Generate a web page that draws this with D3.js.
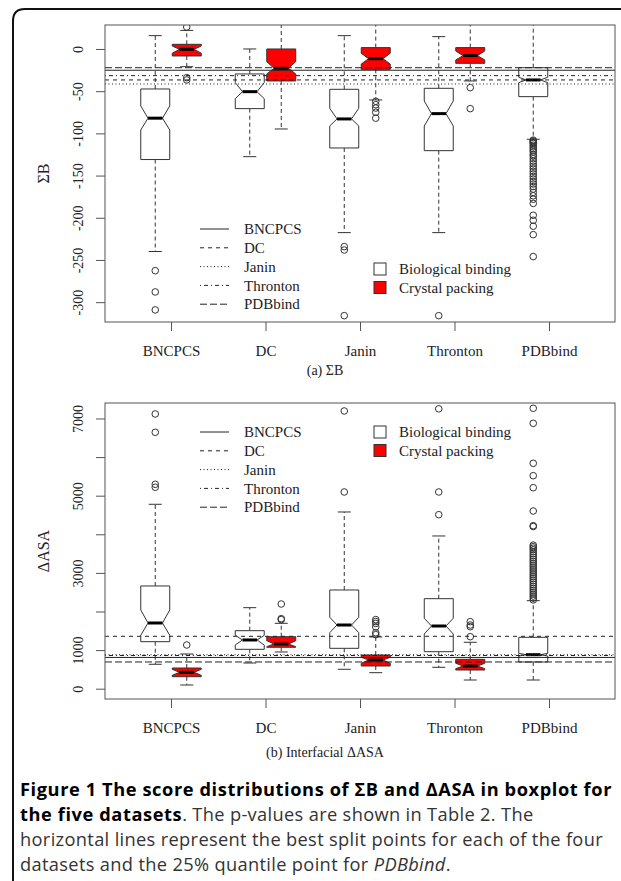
<!DOCTYPE html>
<html>
<head>
<meta charset="utf-8">
<script src="https://cdn.jsdelivr.net/npm/d3@7"></script>
<style>
  body { margin: 0; background: #fff; }
  svg { display: block; }
</style>
</head>
<body>
<script>
/* Two notched boxplots (sum of B-factors and interfacial ASA) for five datasets,
   each with the best split point drawn as a horizontal line. */

const W = 621, H = 881;
const SERIF = '"Liberation Serif", "Times New Roman", serif';

const categories = ['BNCPCS', 'DC', 'Janin', 'Thronton', 'PDBbind'];
const groups = ['Biological binding', 'Crystal packing'];
const splitNames = ['BNCPCS', 'DC', 'Janin', 'Thronton', 'PDBbind'];

// box stats: [lower whisker, Q1, notch low, median, notch high, Q3, upper whisker]
const sbBio = [
  [-240, -131, -96, -82, -67.5, -47.4, 15.8],
  [-127.6, -70.7, -58.9, -50.6, -39.9, -29.6, 0],
  [-217.6, -117.3, -91.2, -82.9, -70.3, -47.8, 15.8],
  [-217.6, -120.5, -91.2, -76.6, -61.6, -46.6, 14.6],
  [-107, -56.5, -39.9, -36.7, -33.5, -22.2, 60],
];
const sbCry = [
  [-21, -8.3, -5, -0.4, 3.5, 5.5, 22],
  [-94.8, -37.9, -29.6, -22.9, -15, 0, 45],
  [-60.4, -24.1, -17.8, -11.5, -5.1, 1.6, 45],
  [-37.9, -17, -13, -7.9, -2.4, 1.6, 45],
];
const sbBioOut = [
  [-262.7, -287.9, -309.2],
  [],
  [-234.2, -238.2, -316],
  [-316],
  [-108, -109, -110, -111, -112, -114, -116, -118, -120, -122, -125, -127, -130, -133, -136, -139,
   -142, -145, -148, -151, -154, -157, -160, -163, -166, -170, -174, -178, -183,
   -197, -203, -210, -220, -246],
];
const sbCryOut = [[26, -34, -36.7], [], [-62, -66, -70, -75, -82], [-45.8, -70.7]];
const sbSplits = [-25.2, -36.7, -41.5, -31.6, -22.2];

const asaBio = [
  [632, 1218, 1383, 1702, 2039, 2661, 4777],
  [666, 1020, 1132, 1262, 1383, 1503, 2099],
  [503, 1046, 1451, 1650, 1850, 2557, 4578],
  [554, 959, 1417, 1624, 1824, 2332, 3956],
  [225, 692, 846, 881, 915, 1331, 2280],
];
const asaCry = [
  [96, 311, 347, 424, 502, 536, 899],
  [951, 1073, 1088, 1158, 1244, 1347, 1694],
  [415, 588, 658, 744, 813, 873, 1340],
  [225, 484, 519, 588, 658, 761, 1202],
];
const asaBioOut = [
  [7117, 6642, 5295, 5218],
  [],
  [7194, 5096],
  [7250, 5096, 4508],
  [7264, 6875, 5839, 5518, 5207, 4603, 4223, 4200, 3720, 3680, 3640, 3600, 3550, 3500,
   3450, 3400, 3350, 3300, 3250, 3200, 3150, 3100, 3050, 3000, 2950, 2900, 2850, 2800,
   2750, 2700, 2650, 2600, 2550, 2500, 2450, 2400, 2350, 2300],
];
const asaCryOut = [[1132], [1814, 1790, 2194], [1790, 1740, 1690, 1600, 1450, 1400], [1736, 1650, 1606, 1347]];
const asaSplits = [810, 1357, 880, 860, 692];

const sbTicks = [0, -50, -100, -150, -200, -250, -300];
const asaTicks = [0, 1000, 2000, 3000, 4000, 5000, 6000, 7000];
const asaTickLabels = [0, 1000, 3000, 5000, 7000];

// R line types for the split lines: solid, dashed, dotted, dotdash, longdash
const splitDash = ['none', '4,4', '1,2.5', '1,3,4,3', '7,3'];
const fills = ['#ffffff', '#ff0000'];

const panels = [
  {
    id: 'sb', top: 25, bottom: 322, domain: [-323.5, 28.4],
    ticks: sbTicks, tickLabels: sbTicks, title: 'ΣB', sub: '(a) ΣB', subY: 375,
    stats: [sbBio, sbCry], outliers: [sbBioOut, sbCryOut], splits: sbSplits,
    lineLegend: { x: 200, y: 229 }, fillLegend: { x: 374, y: 269 },
  },
  {
    id: 'asa', top: 403, bottom: 699, domain: [-267, 7401],
    ticks: asaTicks, tickLabels: asaTickLabels, title: 'ΔASA', sub: '(b) Interfacial ΔASA', subY: 757,
    stats: [asaBio, asaCry], outliers: [asaBioOut, asaCryOut], splits: asaSplits,
    lineLegend: { x: 200, y: 432 }, fillLegend: { x: 374, y: 432 },
  },
];

const plotLeft = 105, plotRight = 615;

const svg = d3.select('body').append('svg')
  .attr('width', W).attr('height', H)
  .style('background', '#fff');

// outer frame with a rounded corner
svg.append('path')
  .attr('d', `M13,${H + 2} V21 Q13,9 25,9 H${W + 2}`)
  .attr('fill', 'none')
  .attr('stroke', '#111')
  .attr('stroke-width', 2);

const x = d3.scalePoint().domain(categories).range([171, 549]);
const offset = d3.scaleBand().domain(groups).range([-31.5, 31.5]);
const boxW = offset.bandwidth() * 0.92;
const stapleW = 13;

function drawPanel(p) {
  const y = d3.scaleLinear().domain(p.domain).range([p.bottom, p.top]);
  const g = svg.append('g').attr('class', 'panel-' + p.id);

  g.append('clipPath').attr('id', 'clip-' + p.id)
    .append('rect')
    .attr('x', plotLeft).attr('y', p.top)
    .attr('width', plotRight - plotLeft).attr('height', p.bottom - p.top);

  const plot = g.append('g').attr('clip-path', `url(#clip-${p.id})`);

  groups.forEach((grp, gi) => {
    p.stats[gi].forEach((s, ci) => {
      const cx = x(categories[ci]) + offset(grp) + offset.bandwidth() / 2;
      const [lo, q1, nlo, med, nhi, q3, hi] = s;
      const b = plot.append('g');

      // whiskers (dashed) and staples
      [[q1, lo], [q3, hi]].forEach(([from, to]) => {
        b.append('line')
          .attr('x1', cx).attr('x2', cx)
          .attr('y1', y(from)).attr('y2', y(to))
          .attr('stroke', '#333').attr('stroke-dasharray', '4,3');
        b.append('line')
          .attr('x1', cx - stapleW / 2).attr('x2', cx + stapleW / 2)
          .attr('y1', y(to)).attr('y2', y(to))
          .attr('stroke', '#333');
      });

      const hw = boxW / 2, nw = boxW / 4;
      const pts = [
        [cx - hw, y(q1)], [cx - hw, y(nlo)], [cx - nw, y(med)], [cx - hw, y(nhi)], [cx - hw, y(q3)],
        [cx + hw, y(q3)], [cx + hw, y(nhi)], [cx + nw, y(med)], [cx + hw, y(nlo)], [cx + hw, y(q1)],
      ];
      b.append('path')
        .attr('d', d3.line()(pts) + 'Z')
        .attr('fill', fills[gi])
        .attr('stroke', '#333');
      b.append('line')
        .attr('x1', cx - nw).attr('x2', cx + nw)
        .attr('y1', y(med)).attr('y2', y(med))
        .attr('stroke', '#000').attr('stroke-width', 3);

      b.selectAll('circle')
        .data(p.outliers[gi][ci])
        .join('circle')
        .attr('cx', cx).attr('cy', (d) => y(d))
        .attr('r', 3.3)
        .attr('fill', 'none')
        .attr('stroke', '#333');
    });
  });

  // split lines drawn over the boxes
  plot.selectAll('line.split')
    .data(p.splits)
    .join('line')
    .attr('class', 'split')
    .attr('x1', plotLeft).attr('x2', plotRight)
    .attr('y1', (d) => y(d)).attr('y2', (d) => y(d))
    .attr('stroke', '#222')
    .attr('stroke-dasharray', (d, i) => splitDash[i]);

  // plot frame
  g.append('rect')
    .attr('x', plotLeft).attr('y', p.top)
    .attr('width', plotRight - plotLeft).attr('height', p.bottom - p.top)
    .attr('fill', 'none').attr('stroke', '#555');

  // y axis
  const ya = g.append('g')
    .attr('transform', `translate(${plotLeft},0)`)
    .call(d3.axisLeft(y).tickValues(p.ticks).tickSize(9)
      .tickFormat((d) => (p.tickLabels.includes(d) ? d : '')));
  ya.select('.domain').remove();
  ya.selectAll('line').attr('stroke', '#555');
  ya.selectAll('text')
    .attr('transform', 'rotate(-90)')
    .attr('x', 0).attr('y', -27).attr('dy', '0.35em')
    .attr('text-anchor', 'middle')
    .attr('font-family', SERIF).attr('font-size', 14).attr('fill', '#222');

  // x axis
  const xa = g.append('g')
    .attr('transform', `translate(0,${p.bottom})`)
    .call(d3.axisBottom(x).tickSize(9));
  xa.select('.domain').remove();
  xa.selectAll('line').attr('stroke', '#555');
  xa.selectAll('text')
    .attr('y', 23).attr('dy', '0.71em')
    .attr('font-family', SERIF).attr('font-size', 15).attr('fill', '#222');

  g.append('text')
    .attr('transform', `translate(43,${(p.top + p.bottom) / 2}) rotate(-90)`)
    .attr('text-anchor', 'middle').attr('dy', '0.35em')
    .attr('font-family', SERIF).attr('font-size', 16).attr('fill', '#222')
    .text(p.title);

  g.append('text')
    .attr('x', 325).attr('y', p.subY)
    .attr('text-anchor', 'middle')
    .attr('font-family', SERIF).attr('font-size', 14).attr('fill', '#222')
    .text(p.sub);

  // line-type legend
  const ll = g.append('g').attr('transform', `translate(${p.lineLegend.x},${p.lineLegend.y})`);
  splitNames.forEach((name, i) => {
    const row = ll.append('g').attr('transform', `translate(0,${i * 18.8})`);
    row.append('line')
      .attr('x1', 0).attr('x2', 29).attr('y1', 0).attr('y2', 0)
      .attr('stroke', '#222').attr('stroke-dasharray', splitDash[i]);
    row.append('text')
      .attr('x', 44).attr('dy', '0.35em')
      .attr('font-family', SERIF).attr('font-size', 15).attr('fill', '#222')
      .text(name);
  });

  // fill legend
  const fl = g.append('g').attr('transform', `translate(${p.fillLegend.x},${p.fillLegend.y})`);
  groups.forEach((name, i) => {
    const row = fl.append('g').attr('transform', `translate(0,${i * 18.5})`);
    row.append('rect')
      .attr('x', 0).attr('y', -6).attr('width', 12).attr('height', 12)
      .attr('fill', fills[i]).attr('stroke', '#333');
    row.append('text')
      .attr('x', 25).attr('dy', '0.35em')
      .attr('font-family', SERIF).attr('font-size', 15).attr('fill', '#222')
      .text(name);
  });
}

panels.forEach(drawPanel);

// figure caption
const capX = 20, capTop = 796, capStep = 25;
const boldRight = 612, plainRight = 603;
const capLines = [
  [['Figure 1 The score distributions of ΣB and ΔASA in boxplot for', 'bold']],
  [['the five datasets', 'bold'], ['. The p-values are shown in Table 2. The', 'normal']],
  [['horizontal lines represent the best split points for each of the four', 'normal']],
  [['datasets and the 25% quantile point for ', 'normal'], ['PDBbind', 'italic'], ['.', 'normal']],
];
const capSize = capStep / 1.37;
const cap = svg.append('g')
  .attr('font-family', '"Open Sans", "Noto Sans", sans-serif')
  .attr('font-size', capSize);
const capText = cap.selectAll('text')
  .data(capLines)
  .join('text')
  .attr('x', capX)
  .attr('y', (d, i) => capTop + i * capStep);
const spans = capText.selectAll('tspan')
  .data((d) => d)
  .join('tspan')
  .attr('font-weight', (d) => (d[1] === 'bold' ? 700 : 400))
  .attr('font-style', (d) => (d[1] === 'italic' ? 'italic' : 'normal'))
  .attr('fill', (d) => (d[1] === 'bold' ? '#000' : '#333'))
  .text((d) => d[0]);
// widen the lines a little so the bold line and the long plain line reach the reference widths
const nodes = capText.nodes();
const boldSpacing = Math.max(0, (boldRight - capX - nodes[0].getComputedTextLength()) / capLines[0][0][0].length);
const plainSpacing = Math.max(0, (plainRight - capX - nodes[2].getComputedTextLength()) / capLines[2][0][0].length);
spans.attr('letter-spacing', (d) => (d[1] === 'bold' ? boldSpacing : plainSpacing));
</script>
</body>
</html>
